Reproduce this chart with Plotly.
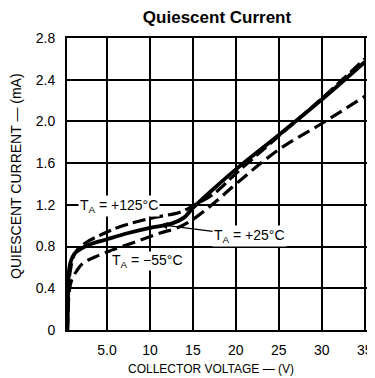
import plotly.graph_objects as go

# Data
v_25 = [0.4, 0.45, 0.5, 0.6, 0.8, 1.2, 2.0, 3.0, 5.0, 7.5, 10, 12.5, 14, 15, 17.5, 20, 25, 30, 35]
i_25 = [0.0, 0.2, 0.4, 0.58, 0.66, 0.73, 0.78, 0.82, 0.87, 0.93, 0.98, 1.02, 1.08, 1.17, 1.36, 1.54, 1.87, 2.21, 2.57]

v_125 = [0.4, 0.5, 0.7, 1.3, 2.4, 4.5, 6.5, 10, 13.5, 15, 17.5, 20, 25, 30, 35]
i_125 = [0.0, 0.3, 0.55, 0.74, 0.83, 0.92, 0.99, 1.07, 1.13, 1.19, 1.31, 1.5, 1.86, 2.22, 2.6]

v_55 = [0.4, 0.5, 0.7, 1.0, 1.5, 2.2, 3.6, 5.7, 8.5, 11.2, 13.2, 15, 17.5, 20, 25, 30, 35]
i_55 = [0.0, 0.25, 0.42, 0.5, 0.57, 0.64, 0.7, 0.77, 0.85, 0.93, 0.98, 1.06, 1.22, 1.40, 1.73, 1.98, 2.24]

x_ticks = [5, 10, 15, 20, 25, 30, 35]
x_labels = ["5.0", "10", "15", "20", "25", "30", "35"]
y_ticks = [0, 0.4, 0.8, 1.2, 1.6, 2.0, 2.4, 2.8]
y_labels = ["0", "0.4", "0.8", "1.2", "1.6", "2.0", "2.4", "2.8"]

FONT = "Liberation Sans, Arial, sans-serif"
OFF = 8  # default page body margin offsets the figure by 8px
W, H = 375 - OFF, 378 - OFF
# target plot area in window pixels: left 67, right 367, top 38, bottom 330
L = 67 - OFF
R = W - (367 - OFF)
T = 38 - OFF
B = H - (330 - OFF)
pw = W - L - R
ph = H - T - B


def px_x(x):  # window px -> paper x
    return (x - OFF - L) / pw


def px_y(y):  # window px -> paper y
    return (H - B - (y - OFF)) / ph


fig = go.Figure()
fig.add_trace(go.Scatter(x=v_125, y=i_125, mode="lines", line=dict(color="black", width=3.2, dash="13px,5px"),
                         line_shape="spline", name="+125°C"))
fig.add_trace(go.Scatter(x=v_55, y=i_55, mode="lines", line=dict(color="black", width=3.2, dash="13px,6px"),
                         line_shape="spline", name="-55°C"))
fig.add_trace(go.Scatter(x=v_25, y=i_25, mode="lines", line=dict(color="black", width=3.8),
                         line_shape="spline", name="+25°C"))

fig.add_annotation(x=1.63, y=1.19, xref="x", yref="y", xanchor="left", yanchor="middle",
                   text="T<sub>A</sub> = +125°C", showarrow=False, bgcolor="white", borderpad=1,
                   font=dict(family=FONT, size=14, color="black"))
fig.add_annotation(x=11.2, y=1.01, xref="x", yref="y", ax=21.6, ay=0.90, axref="x", ayref="y",
                   text="T<sub>A</sub> = +25°C", showarrow=True, arrowhead=2, arrowsize=1.2, arrowwidth=1.2,
                   arrowcolor="black", bgcolor="white", borderpad=1,
                   font=dict(family=FONT, size=14, color="black"))
fig.add_annotation(x=9.7, y=0.66, xref="x", yref="y", xanchor="center", yanchor="middle",
                   text="T<sub>A</sub> = −55°C", showarrow=False, bgcolor="white", borderpad=0,
                   font=dict(family=FONT, size=14, color="black"))

fig.add_annotation(x=px_x(211), y=px_y(369), xref="paper", yref="paper", showarrow=False,
                   text="COLLECTOR VOLTAGE — (V)", xanchor="center", yanchor="middle",
                   font=dict(family=FONT, size=12, color="black"))
fig.add_annotation(x=px_x(16), y=px_y(176), xref="paper", yref="paper", showarrow=False,
                   text="QUIESCENT CURRENT — (mA)", textangle=-90, xanchor="center", yanchor="middle",
                   font=dict(family=FONT, size=14, color="black"))

fig.update_layout(
    width=W, height=H,
    margin=dict(l=L, r=R, t=T, b=B, autoexpand=False),
    paper_bgcolor="white", plot_bgcolor="white",
    showlegend=False,
    font=dict(family=FONT, size=14, color="black"),
    title=dict(text="<b>Quiescent Current</b>", x=(217 - OFF) / W, xanchor="center",
               y=1 - (17 - OFF) / H, yanchor="middle",
               font=dict(family=FONT, size=17, color="black")),
)
fig.update_xaxes(range=[0.35, 35.26], tickmode="array", tickvals=x_ticks, ticktext=x_labels,
                 showgrid=True, gridcolor="black", gridwidth=1.5, zeroline=False, automargin=False,
                 showline=True, linecolor="black", linewidth=2, mirror=True, ticks="",
                 ticklabelstandoff=6, tickfont=dict(family=FONT, size=14, color="black"))
fig.update_yaxes(range=[0, 2.8], tickmode="array", tickvals=y_ticks, ticktext=y_labels,
                 showgrid=True, gridcolor="black", gridwidth=1.5, zeroline=False, automargin=False,
                 showline=True, linecolor="black", linewidth=2, mirror=True, ticks="",
                 ticklabelstandoff=7, tickfont=dict(family=FONT, size=14, color="black"))

fig.write_html("out.html")
